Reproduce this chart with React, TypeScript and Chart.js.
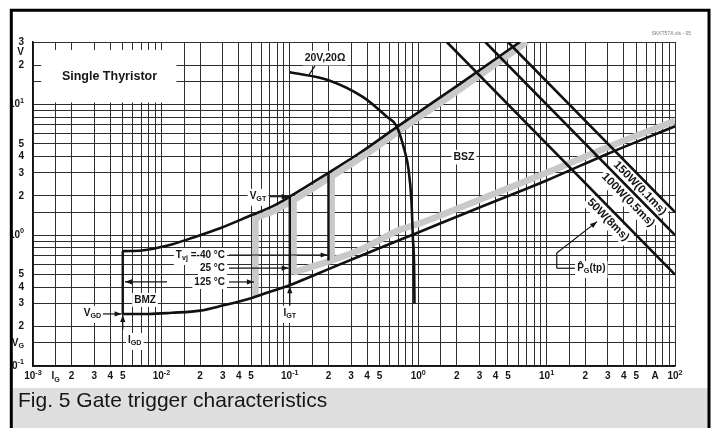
import { useEffect, useRef } from 'react';
import { Chart, registerables } from 'chart.js';

Chart.register(...registerables);

// ---------------- data ----------------
const xGridValues = [
  0.001, 0.0015, 0.002, 0.003, 0.004, 0.005, 0.006, 0.007, 0.008, 0.009,
  0.01, 0.015, 0.02, 0.03, 0.04, 0.05, 0.06, 0.07, 0.08, 0.09,
  0.1, 0.15, 0.2, 0.3, 0.4, 0.5, 0.6, 0.7, 0.8, 0.9,
  1, 1.5, 2, 3, 4, 5, 6, 7, 8, 9,
  10, 15, 20, 30, 40, 50, 60, 70, 80, 90, 100,
];
const yGridValues = [
  0.1, 0.15, 0.2, 0.3, 0.4, 0.5, 0.6, 0.7, 0.8, 0.9,
  1, 1.5, 2, 3, 4, 5, 6, 7, 8, 9,
  10, 15, 20, 30,
];
const xLabelValues = [0.001, 0.0015, 0.002, 0.003, 0.004, 0.005, 0.01, 0.02, 0.03, 0.04, 0.05, 0.1, 0.2, 0.3, 0.4, 0.5, 1, 2, 3, 4, 5, 10, 20, 30, 40, 50, 70, 100];
const xLabelTexts = ['10^{-3}', 'I_{G}', '2', '3', '4', '5', '10^{-2}', '2', '3', '4', '5', '10^{-1}', '2', '3', '4', '5', '10^{0}', '2', '3', '4', '5', '10^{1}', '2', '3', '4', '5', 'A', '10^{2}'];
const yLabelValues = [30, 25, 20, 10, 5, 4, 3, 2, 1, 0.5, 0.4, 0.3, 0.2, 0.15, 0.1];
const yLabelTexts = ['3', 'V', '2', '10^{1}', '5', '4', '3', '2', '10^{0}', '5', '4', '3', '2', 'V_{G}', '10^{-1}'];

// black curves (I in A, V in V)
const lowerI = [0.005, 0.008, 0.012, 0.02, 0.03, 0.05, 0.07, 0.1, 0.14, 0.2, 0.35, 0.7, 1, 3, 10, 30, 100];
const lowerV = [0.25, 0.25, 0.255, 0.265, 0.29, 0.33, 0.37, 0.415, 0.475, 0.55, 0.69, 0.91, 1.05, 1.63, 2.62, 4.2, 6.8];
const upperI = [0.005, 0.007, 0.011, 0.0177, 0.0286, 0.05, 0.074, 0.1, 0.135, 0.2, 0.35, 0.68, 2.1, 6.2];
const upperV = [0.756, 0.765, 0.83, 0.96, 1.13, 1.42, 1.67, 1.97, 2.36, 3.0, 4.25, 6.7, 14.3, 30];
const loadI = [0.1, 0.2, 0.37, 0.57, 0.68, 0.78, 0.84, 0.885, 0.91, 0.93, 0.935];
const loadV = [17.6, 15.3, 11.4, 8.05, 6.8, 4.5, 3.2, 1.86, 0.93, 0.54, 0.3];
const p150I = [5, 100];
const p150V = [30, 1.5];
const p100I = [3.33, 100];
const p100V = [30, 1];
const p50I = [1.67, 100];
const p50V = [30, 0.5];
const bmzLeftI = [0.005, 0.005];
const bmzLeftV = [0.25, 0.756];
const igt25I = [0.1, 0.1];
const igt25V = [0.415, 1.97];
const igt40I = [0.2, 0.2];
const igt40V = [0.64, 3.0];

// gray bands
const grayLeftI = [0.054, 0.054];
const grayLeftV = [0.335, 1.4];
const grayUpperI = [0.054, 0.074, 0.1, 0.135, 0.2, 0.35, 0.68, 2.1, 7.0];
const grayUpperV = [1.35, 1.52, 1.79, 2.13, 2.72, 3.85, 6.1, 13.0, 30];
const grayMidI = [0.107, 0.107];
const grayMidV = [0.5, 1.82];
const grayRightI = [0.212, 0.212];
const grayRightV = [0.63, 2.85];
const grayLowerI = [0.107, 0.2, 0.35, 0.72, 1, 3, 10, 33, 100];
const grayLowerV = [0.52, 0.63, 0.77, 1.1, 1.22, 1.87, 3.0, 4.9, 7.5];

// ---------------- helpers ----------------
type Seg = { t: string; mode: string };
function parseRich(s: string): Seg[] {
  const segs: Seg[] = [];
  let i = 0;
  while (i < s.length) {
    if ((s[i] === '^' || s[i] === '_') && s[i + 1] === '{') {
      const end = s.indexOf('}', i);
      segs.push({ t: s.slice(i + 2, end), mode: s[i] });
      i = end + 1;
    } else {
      let j = i;
      while (j < s.length && !((s[j] === '^' || s[j] === '_') && s[j + 1] === '{')) j++;
      segs.push({ t: s.slice(i, j), mode: '' });
      i = j;
    }
  }
  return segs;
}
const FAM = '"Liberation Sans", Arial, sans-serif';
function richWidth(ctx: CanvasRenderingContext2D, s: string, size: number, weight: string) {
  let w = 0;
  for (const seg of parseRich(s)) {
    const fs = seg.mode ? size * 0.72 : size;
    ctx.font = `${weight} ${fs}px ${FAM}`;
    w += ctx.measureText(seg.t).width;
  }
  return w;
}
function drawRich(ctx: CanvasRenderingContext2D, s: string, x: number, y: number, size: number, align: string, weight = 'bold', box = false) {
  const w = richWidth(ctx, s, size, weight);
  let x0 = x;
  if (align === 'center') x0 = x - w / 2;
  else if (align === 'right') x0 = x - w;
  const segs = parseRich(s);
  if (box) {
    const hasSub = segs.some((g) => g.mode === '_');
    ctx.fillStyle = '#fff';
    ctx.fillRect(x0 - 2, y - size * 0.6 - 1, w + 4, size * 1.2 + 2 + (hasSub ? size * 0.3 : 0));
  }
  ctx.textBaseline = 'middle';
  ctx.textAlign = 'left';
  ctx.fillStyle = '#151515';
  let cx = x0;
  for (const seg of segs) {
    const fs = seg.mode ? size * 0.72 : size;
    ctx.font = `${weight} ${fs}px ${FAM}`;
    const dy = seg.mode === '^' ? -size * 0.38 : seg.mode === '_' ? size * 0.32 : 0;
    ctx.fillText(seg.t, cx, y + dy);
    cx += ctx.measureText(seg.t).width;
  }
}

function arrow(ctx: CanvasRenderingContext2D, x1: number, y1: number, x2: number, y2: number, head = true) {
  ctx.strokeStyle = '#151515';
  ctx.fillStyle = '#151515';
  ctx.lineWidth = 1.2;
  ctx.beginPath();
  ctx.moveTo(x1, y1);
  ctx.lineTo(x2, y2);
  ctx.stroke();
  if (head) {
    const a = Math.atan2(y2 - y1, x2 - x1);
    const L = 7, W = 2.6;
    ctx.beginPath();
    ctx.moveTo(x2, y2);
    ctx.lineTo(x2 - L * Math.cos(a) + W * Math.sin(a), y2 - L * Math.sin(a) - W * Math.cos(a));
    ctx.lineTo(x2 - L * Math.cos(a) - W * Math.sin(a), y2 - L * Math.sin(a) + W * Math.cos(a));
    ctx.closePath();
    ctx.fill();
  }
}

const mk = (xs: number[], ys: number[], color: string, width: number, order: number, tension = 0) => ({
  data: xs.map((x, i) => ({ x, y: ys[i] })),
  borderColor: color,
  backgroundColor: color,
  borderWidth: width,
  showLine: true,
  pointRadius: 0,
  fill: false,
  tension,
  cubicInterpolationMode: tension ? 'monotone' : 'default',
  order,
});

const BLACK = '#111111';
const GRAY = '#c9c9c9';

const annotations = {
  id: 'annotations',
  beforeDraw(chart: any) {
    const ctx = chart.ctx;
    ctx.save();
    ctx.fillStyle = '#fff';
    ctx.fillRect(0, 0, chart.width, chart.height);
    ctx.restore();
  },
  beforeDatasetsDraw(chart: any) {
    const ctx: CanvasRenderingContext2D = chart.ctx;
    const sx = chart.scales.x, sy = chart.scales.y;
    const X = (v: number) => sx.getPixelForValue(v);
    const Y = (v: number) => sy.getPixelForValue(v);
    ctx.save();
    // white label panel "Single Thyristor"
    ctx.fillStyle = '#fff';
    const l = X(0.00116), r = X(0.0131), t = Y(26.1), b = Y(10.35);
    ctx.fillRect(l, t, r - l, b - t);
    drawRich(ctx, 'Single Thyristor', X(0.00394), Y(16.2), 12.5, 'center');
    // boxed labels
    drawRich(ctx, '20V,20Ω', X(0.188), Y(22.6), 10.5, 'center', 'bold', true);
    drawRich(ctx, 'V_{GT}', X(0.0565), Y(2.0), 10, 'center', 'bold', true);
    drawRich(ctx, 'T_{vj} =-40 °C', X(0.0313), Y(0.706), 10, 'right', 'bold', true);
    drawRich(ctx, '25 °C', X(0.0313), Y(0.561), 10, 'right', 'bold', true);
    drawRich(ctx, '125 °C', X(0.0313), Y(0.439), 10, 'right', 'bold', true);
    drawRich(ctx, 'BMZ', X(0.00745), Y(0.32), 10, 'center', 'bold', true);
    drawRich(ctx, 'V_{GD}', X(0.0034), Y(0.255), 10, 'right', 'bold', true);
    drawRich(ctx, 'I_{GD}', X(0.0062), Y(0.158), 10, 'center', 'bold', true);
    drawRich(ctx, 'I_{GT}', X(0.1), Y(0.255), 10, 'center', 'bold', true);
    drawRich(ctx, 'BSZ', X(2.27), Y(3.95), 10.5, 'center', 'bold', true);
    drawRich(ctx, 'P\u0302_{G}(tp)', X(17.3), Y(0.56), 10, 'left', 'bold', true);
    // rotated power labels
    const ang = Math.atan2(Y(1.5) - Y(30), X(100) - X(5));
    const rot: [string, number, number][] = [
      ['150W(0.1ms)', 53.3, 2.29],
      ['100W(0.5ms)', 43.1, 1.86],
      ['50W(8ms)', 30.1, 1.31],
    ];
    for (const [txt, vx, vy] of rot) {
      ctx.save();
      ctx.translate(X(vx), Y(vy));
      ctx.rotate(ang);
      drawRich(ctx, txt, 0, 0, 11.5, 'center', 'bold', true);
      ctx.restore();
    }
    ctx.restore();
  },
  afterDatasetsDraw(chart: any) {
    const ctx: CanvasRenderingContext2D = chart.ctx;
    const sx = chart.scales.x, sy = chart.scales.y;
    const X = (v: number) => sx.getPixelForValue(v);
    const Y = (v: number) => sy.getPixelForValue(v);
    ctx.save();
    arrow(ctx, X(0.07), Y(1.97), X(0.098), Y(1.97));
    arrow(ctx, X(0.0336), Y(0.706), X(0.197), Y(0.706));
    arrow(ctx, X(0.0336), Y(0.561), X(0.098), Y(0.561));
    arrow(ctx, X(0.0336), Y(0.439), X(0.0525), Y(0.439));
    arrow(ctx, X(0.01106), Y(0.44), X(0.0052), Y(0.44));
    arrow(ctx, X(0.0035), Y(0.25), X(0.0049), Y(0.25));
    arrow(ctx, X(0.005), Y(0.19), X(0.005), Y(0.245));
    arrow(ctx, X(0.1), Y(0.29), X(0.1), Y(0.408));
    arrow(ctx, X(12), Y(0.731), X(24.7), Y(1.27));
    arrow(ctx, X(12), Y(0.731), X(12), Y(0.559), false);
    arrow(ctx, X(12), Y(0.559), X(16.6), Y(0.559), false);
    arrow(ctx, X(0.157), Y(19.7), X(0.141), Y(16.8), false);
    ctx.restore();
  },
  afterDraw(chart: any) {
    const ctx: CanvasRenderingContext2D = chart.ctx;
    const sx = chart.scales.x, sy = chart.scales.y;
    const area = chart.chartArea;
    ctx.save();
    // tick labels
    xLabelValues.forEach((v, i) => {
      drawRich(ctx, xLabelTexts[i], sx.getPixelForValue(v), area.bottom + 10.5, 10, 'center', 'bold');
    });
    yLabelValues.forEach((v, i) => {
      drawRich(ctx, yLabelTexts[i], area.left - 9, sy.getPixelForValue(v), 10, 'right', 'bold');
    });
    // tiny file tag
    ctx.font = `5px ${FAM}`;
    ctx.fillStyle = '#777';
    ctx.textAlign = 'right';
    ctx.textBaseline = 'middle';
    ctx.fillText('SKKT57A.xls - 05', area.right + 16, area.top - 8);
    // outside frame
    ctx.fillStyle = '#fff';
    ctx.fillRect(0, 0, 10, chart.height);
    ctx.fillRect(0, 0, chart.width, 9);
    ctx.fillRect(710, 0, chart.width - 710, chart.height);
    // caption band
    ctx.fillStyle = '#dfdfdf';
    ctx.fillRect(12.5, 388, 696, chart.height - 388);
    ctx.fillStyle = '#161616';
    ctx.font = `21px ${FAM}`;
    ctx.textAlign = 'left';
    ctx.textBaseline = 'alphabetic';
    ctx.fillText('Fig. 5 Gate trigger characteristics', 18, 407);
    // frame
    ctx.strokeStyle = '#000';
    ctx.lineWidth = 3;
    ctx.beginPath();
    ctx.moveTo(11.3, chart.height);
    ctx.lineTo(11.3, 10.3);
    ctx.lineTo(709, 10.3);
    ctx.lineTo(709, chart.height);
    ctx.stroke();
    ctx.restore();
  },
};

export default function App() {
  const ref = useRef<HTMLCanvasElement>(null);
  useEffect(() => {
    const grid = { color: '#2e2e2e', lineWidth: 1, drawTicks: false };
    const chart = new Chart(ref.current as HTMLCanvasElement, {
      type: 'scatter',
      data: {
        datasets: [
          mk(lowerI, lowerV, BLACK, 2.6, 1, 0.3),
          mk(upperI, upperV, BLACK, 2.6, 1, 0.3),
          mk(loadI, loadV, BLACK, 2.6, 1, 0.3),
          mk(p150I, p150V, BLACK, 2.6, 1),
          mk(p100I, p100V, BLACK, 2.6, 1),
          mk(p50I, p50V, BLACK, 2.6, 1),
          mk(bmzLeftI, bmzLeftV, BLACK, 2.4, 1),
          mk(igt25I, igt25V, BLACK, 2.4, 1),
          mk(igt40I, igt40V, BLACK, 2.4, 1),
          mk(grayLeftI, grayLeftV, GRAY, 6.5, 2),
          mk(grayUpperI, grayUpperV, GRAY, 6.5, 2, 0.3),
          mk(grayMidI, grayMidV, GRAY, 6.5, 2),
          mk(grayRightI, grayRightV, GRAY, 6.5, 2),
          mk(grayLowerI, grayLowerV, GRAY, 6.5, 2, 0.3),
        ] as any,
      },
      options: {
        responsive: false,
        animation: false,
        devicePixelRatio: 1,
        layout: { padding: { left: 33, top: 42, right: 42, bottom: 62 } },
        plugins: { legend: { display: false }, tooltip: { enabled: false } },
        scales: {
          x: {
            type: 'logarithmic',
            min: 0.001,
            max: 100,
            afterBuildTicks: (s: any) => {
              s.ticks = xGridValues.map((v) => ({ value: v }));
            },
            ticks: { display: false },
            grid,
            border: { display: true, color: '#111', width: 1.5 },
          },
          y: {
            type: 'logarithmic',
            min: 0.1,
            max: 30,
            afterBuildTicks: (s: any) => {
              s.ticks = yGridValues.map((v) => ({ value: v }));
            },
            ticks: { display: false },
            grid,
            border: { display: true, color: '#111', width: 1.5 },
          },
        },
      } as any,
      plugins: [annotations],
    });
    return () => chart.destroy();
  }, []);
  return (
    <div style={{ position: 'absolute', left: 0, top: 0, width: 717, height: 428, background: '#fff' }}>
      <canvas ref={ref} width={717} height={428} style={{ display: 'block', width: 717, height: 428 }} />
    </div>
  );
}
